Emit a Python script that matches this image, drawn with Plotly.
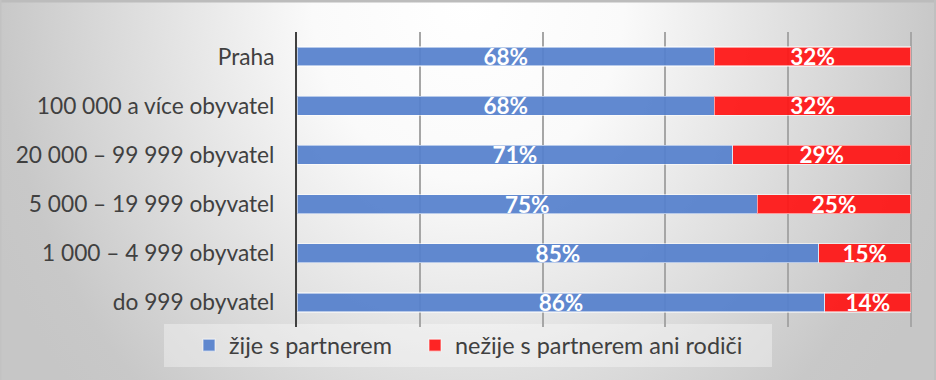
import base64
import plotly.graph_objects as go

categories = [
    "Praha",
    "100 000 a více obyvatel",
    "20 000 – 99 999 obyvatel",
    "5 000 – 19 999 obyvatel",
    "1 000 – 4 999 obyvatel",
    "do 999 obyvatel",
]
zije_s_partnerem = [68, 68, 71, 75, 85, 86]
nezije = [32, 32, 29, 25, 15, 14]
series_names = ["žije s partnerem", "nežije s partnerem ani rodiči"]
x_ticks = [0, 20, 40, 60, 80, 100]

W, H = 936, 380
L, R, T, B = 297, 24, 32, 53
PW, PH = W - L - R, H - T - B

svg = f'''<svg xmlns="http://www.w3.org/2000/svg" width="{W}" height="{H}" viewBox="0 0 {W} {H}" preserveAspectRatio="none">
<defs><radialGradient id="g" gradientUnits="userSpaceOnUse" cx="0" cy="0" r="1"
 gradientTransform="translate(468 0) scale(520 600)">
<stop offset="0" stop-color="#ffffff"/>
<stop offset="0.3" stop-color="#fafafa"/>
<stop offset="0.9" stop-color="#c8c8c8"/>
<stop offset="1" stop-color="#c6c6c6"/>
</radialGradient></defs>
<rect width="{W}" height="{H}" fill="url(#g)"/>
<rect x="0" y="0" width="{W}" height="2.5" fill="#bcbcbc"/>
<rect x="{W-2}" y="0" width="2" height="{H}" fill="#c0c0c0"/>
<rect x="0" y="0" width="1.5" height="{H}" fill="#c2c2c2"/>
</svg>'''
src = "data:image/svg+xml;base64," + base64.b64encode(svg.encode()).decode()

blue = "rgba(85,128,204,0.93)"
red = "rgba(255,20,20,0.93)"

fig = go.Figure()
for name, vals, col, lg in [(series_names[0], zije_s_partnerem, blue, "legend"),
                            (series_names[1], nezije, red, "legend2")]:
    fig.add_trace(go.Bar(
        y=categories, x=vals, name=name, orientation="h", legend=lg,
        marker=dict(color=col, line=dict(color="rgba(255,255,255,0.55)", width=1.2)),
        texttemplate="%{x}%", textposition="inside", insidetextanchor="middle",
        textfont=dict(family="Lato", size=22.5, color="white", weight="bold"),
        hoverinfo="skip",
    ))

def px_x(p):
    return (p - L) / PW

def px_y(p):
    return (H - B - p) / PH

leg_common = dict(orientation="h", xref="container", yref="container",
                  xanchor="left", y=1 - 345.5 / H, yanchor="middle",
                  bgcolor="rgba(0,0,0,0)",
                  font=dict(family="Lato", size=23.4, color="#404040"),
                  itemclick=False, itemdoubleclick=False)

fig.update_layout(
    width=W, height=H,
    margin=dict(l=L, r=R, t=T, b=B, autoexpand=False),
    barmode="stack", bargap=0.614,
    paper_bgcolor="rgba(0,0,0,0)", plot_bgcolor="rgba(0,0,0,0)",
    font=dict(family="Lato", color="#404040"),
    uniformtext=dict(minsize=21, mode="show"),
    images=[dict(source=src, xref="paper", yref="paper",
                 x=-L / PW, y=1 + T / PH, sizex=W / PW, sizey=H / PH,
                 xanchor="left", yanchor="top", sizing="stretch", layer="below")],
    shapes=[dict(type="rect", xref="paper", yref="paper",
                 x0=px_x(164), x1=px_x(772), y0=px_y(367), y1=px_y(324),
                 fillcolor="rgba(255,255,255,0.35)", line=dict(width=0), layer="below")],
    legend=dict(x=189 / W, **leg_common),
    legend2=dict(x=415 / W, **leg_common),
    showlegend=True,
)
fig.update_xaxes(range=[0, 100.2], tickvals=x_ticks, showticklabels=False,
                 showgrid=True, gridcolor="#a6a6a6", gridwidth=1.5,
                 zeroline=False, showline=False, fixedrange=True)
fig.update_yaxes(categoryorder="array", categoryarray=categories,
                 range=[5.5, -0.5], showline=True, linecolor="#404040", linewidth=2,
                 ticks="", ticklabelstandoff=16,
                 tickfont=dict(family="Lato", size=22.7, color="#404040"),
                 showgrid=False, fixedrange=True, automargin=False)

fig.write_html("out.html", config={"displayModeBar": False},
               post_script="document.body.style.margin='0';document.body.style.overflow='hidden';")
